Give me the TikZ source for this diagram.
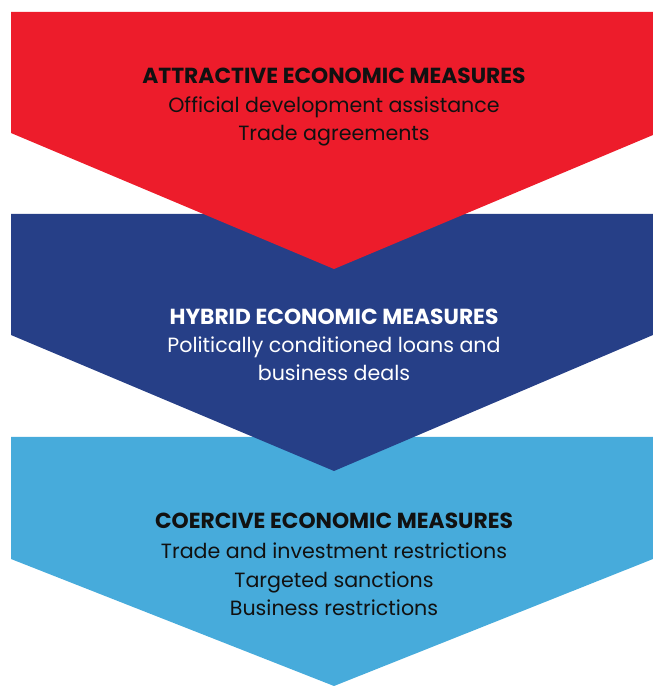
\documentclass[tikz,border=0pt]{standalone}
\usepackage{fontspec}
\setmainfont{Poppins}
\definecolor{cred}{HTML}{ED1C2B}
\definecolor{cblue}{HTML}{263F87}
\definecolor{clight}{HTML}{47ABDB}
\definecolor{ctext}{HTML}{111111}
\begin{document}
\begin{tikzpicture}[x=1pt,y=1pt,
  head/.style={anchor=base,inner sep=0pt,font=\fontsize{21.8}{22}\selectfont\bfseries},
  item/.style={anchor=base,inner sep=0pt,font=\fontsize{20.6}{22}\selectfont}]
\useasboundingbox (0,0) rectangle (653,686);
% light blue chevron
\fill[clight] (11,249) -- (653,249) -- (653,127) -- (334,0) -- (11,127) -- cycle;
% dark blue chevron
\fill[cblue] (11,472) -- (653,472) -- (653,351) -- (334,215) -- (11,351) -- cycle;
% red chevron
\fill[cred] (11,674) -- (653,674) -- (653,551) -- (334,417) -- (11,553) -- cycle;
% red texts
\node[head,text=ctext] (r0) at (334,602) {ATTRACTIVE ECONOMIC MEASURES};
\node[item,text=ctext] (r1) at (334,573.5) {Official development assistance};
\node[item,text=ctext] (r2) at (334,545) {Trade agreements};
% blue texts
\node[head,text=white] (b0) at (334,361.5) {HYBRID ECONOMIC MEASURES};
\node[item,text=white] (b1) at (334,333) {Politically conditioned loans and};
\node[item,text=white] (b2) at (334,305) {business deals};
% light blue texts
\node[head,text=ctext] (l0) at (334,157) {COERCIVE ECONOMIC MEASURES};
\node[item,text=ctext] (l1) at (334,127.5) {Trade and investment restrictions};
\node[item,text=ctext] (l2) at (334,98.5) {Targeted sanctions};
\node[item,text=ctext] (l3) at (334,70) {Business restrictions};
\end{tikzpicture}
\end{document}
